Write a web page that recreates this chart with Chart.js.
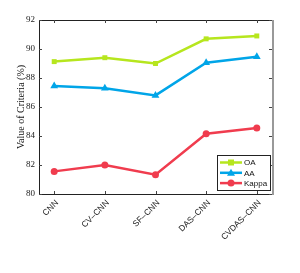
<!DOCTYPE html>
<html>
<head>
<meta charset="utf-8">
<script src="https://cdn.jsdelivr.net/npm/chart.js@4.4.0/dist/chart.umd.min.js"></script>
<style>
  html, body { margin: 0; padding: 0; background: #fff; }
  #wrap { width: 300px; height: 273px; }
</style>
</head>
<body>
<div id="wrap"><canvas id="grafico"></canvas></div>
<script>
// datos
const categorias = ["CNN", "CV–CNN", "SF–CNN", "DAS–CNN", "CVDAS–CNN"];
const valoresOA = [89.13, 89.4, 89.0, 90.7, 90.9];
const valoresAA = [87.45, 87.3, 86.8, 89.05, 89.47];
const valoresKappa = [81.56, 82.0, 81.33, 84.15, 84.55];
const ticksY = [80, 82, 84, 86, 88, 90, 92];
const tituloY = 'Value of Criteria (%)';

const puntos = arr => arr.map((v, i) => ({ x: i, y: v }));

// caja del eje + marcas hacia dentro + titulo + leyenda
const cajaPlugin = {
  id: 'caja',
  afterDraw(chart) {
    const { ctx, chartArea: a, scales } = chart;
    const tl = 3;
    ctx.save();
    ctx.strokeStyle = '#222';
    ctx.lineWidth = 1;
    ctx.beginPath();
    ctx.moveTo(a.left + 0.5, a.top + 0.5);
    ctx.lineTo(a.right, a.top + 0.5);
    ctx.moveTo(a.left + 0.5, a.top);
    ctx.lineTo(a.left + 0.5, a.bottom + 0.5);
    ctx.lineTo(a.right, a.bottom + 0.5);
    ctx.stroke();
    ctx.strokeStyle = '#999';
    ctx.lineWidth = 2;
    ctx.beginPath();
    ctx.moveTo(a.right + 1, a.top);
    ctx.lineTo(a.right + 1, a.bottom + 1);
    ctx.stroke();

    ctx.strokeStyle = '#444';
    ctx.lineWidth = 1;
    ctx.beginPath();
    categorias.forEach((c, i) => {
      const x = Math.round(scales.x.getPixelForValue(i)) + 0.5;
      ctx.moveTo(x, a.bottom); ctx.lineTo(x, a.bottom - tl);
      ctx.moveTo(x, a.top); ctx.lineTo(x, a.top + tl);
    });
    ticksY.forEach(v => {
      const y = Math.round(scales.y.getPixelForValue(v)) + 0.5;
      ctx.moveTo(a.left, y); ctx.lineTo(a.left + tl, y);
      ctx.moveTo(a.right, y); ctx.lineTo(a.right - tl, y);
    });
    ctx.stroke();

    // titulo del eje y
    ctx.save();
    ctx.translate(a.left - 18, (a.top + a.bottom) / 2);
    ctx.rotate(-Math.PI / 2);
    ctx.fillStyle = '#111';
    ctx.font = '10px "Liberation Serif", "Times New Roman", serif';
    ctx.textAlign = 'center';
    ctx.textBaseline = 'middle';
    ctx.fillText(tituloY, 0, 0);
    ctx.restore();

    // leyenda
    const lx = 217, ly = 155, lw = 53, lh = 35;
    ctx.fillStyle = '#fff';
    ctx.fillRect(lx, ly, lw, lh);
    ctx.strokeStyle = '#222';
    ctx.strokeRect(lx + 0.5, ly + 0.5, lw, lh);
    ctx.font = '8px "Liberation Sans", Arial, sans-serif';
    ctx.textBaseline = 'middle';
    chart.data.datasets.forEach((ds, i) => {
      const y = ly + 7.5 + i * 10.3;
      ctx.strokeStyle = ds.borderColor;
      ctx.lineWidth = 2.5;
      ctx.beginPath();
      ctx.moveTo(lx + 3, y); ctx.lineTo(lx + 25, y);
      ctx.stroke();
      ctx.fillStyle = ds.borderColor;
      const mx = lx + 14;
      ctx.beginPath();
      if (ds.pointStyle === 'rect') {
        ctx.rect(mx - 3, y - 3, 6, 6);
      } else if (ds.pointStyle === 'triangle') {
        ctx.moveTo(mx, y - 4); ctx.lineTo(mx + 4, y + 3); ctx.lineTo(mx - 4, y + 3); ctx.closePath();
      } else {
        ctx.arc(mx, y, 3.5, 0, Math.PI * 2);
      }
      ctx.fill();
      ctx.fillStyle = '#111';
      ctx.fillText(ds.label, lx + 27, y + 0.5);
    });
    ctx.restore();
  }
};

const serie = (label, datos, color, estilo, radio) => ({
  label: label,
  data: puntos(datos),
  borderColor: color,
  backgroundColor: color,
  borderWidth: 2.5,
  pointStyle: estilo,
  pointRadius: radio,
  pointBorderWidth: 0,
  tension: 0
});

new Chart(document.getElementById('grafico'), {
  type: 'line',
  data: {
    datasets: [
      serie('OA', valoresOA, 'rgb(182,230,30)', 'rect', 3.5),
      serie('AA', valoresAA, 'rgb(0,165,232)', 'triangle', 4.5),
      serie('Kappa', valoresKappa, 'rgb(240,60,78)', 'circle', 3.5)
    ]
  },
  options: {
    responsive: true,
    maintainAspectRatio: false,
    animation: false,
    layout: { padding: { top: 20, right: 28, left: 0, bottom: 0 } },
    plugins: { legend: { display: false }, tooltip: { enabled: false } },
    scales: {
      x: {
        type: 'linear',
        min: -0.3,
        max: 4.3,
        afterBuildTicks: s => { s.ticks = categorias.map((c, i) => ({ value: i })); },
        afterFit: s => { s.height = 79; },
        grid: { display: false, drawTicks: false },
        border: { display: false },
        ticks: {
          autoSkip: false,
          maxRotation: 45,
          minRotation: 45,
          padding: 4,
          labelOffset: 3,
          color: '#222',
          font: { family: '"Liberation Sans", Arial, sans-serif', size: 8.5 },
          callback: v => categorias[v]
        }
      },
      y: {
        min: 80,
        max: 92,
        afterBuildTicks: s => { s.ticks = ticksY.map(v => ({ value: v })); },
        afterFit: s => { s.width = 39; },
        grid: { display: false, drawTicks: false },
        border: { display: false },
        ticks: {
          padding: 4,
          color: '#222',
          font: { family: '"Liberation Serif", "Times New Roman", serif', size: 9 }
        }
      }
    }
  },
  plugins: [cajaPlugin]
});
</script>
</body>
</html>
